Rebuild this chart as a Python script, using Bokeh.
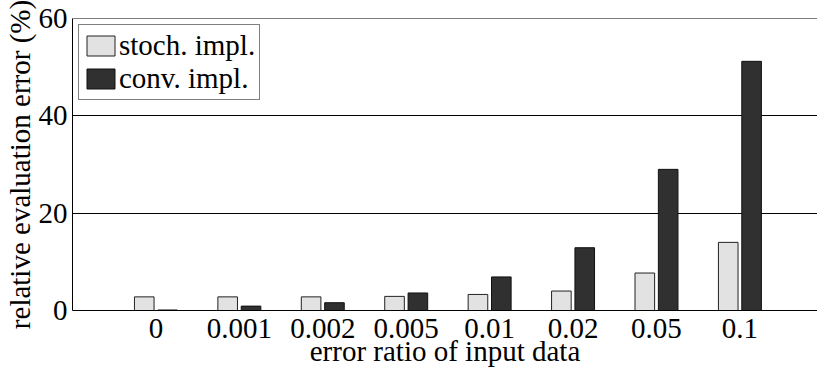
from bokeh.plotting import figure
from bokeh.models import FixedTicker, Span, Legend, LegendItem, ColumnDataSource
from bokeh.embed import file_html
from bokeh.resources import INLINE

categories = ["0", "0.001", "0.002", "0.005", "0.01", "0.02", "0.05", "0.1"]
stoch = [2.8, 2.8, 2.8, 2.9, 3.3, 4.0, 7.7, 14.0]
conv = [0.1, 0.9, 1.6, 3.6, 6.9, 12.9, 29.0, 51.2]
y_ticks = [0, 20, 40, 60]

FONT = "Liberation Serif"
FS = "29px"
n = len(categories)
idx = list(range(n))
off = 0.14
bw = 0.235

p = figure(width=817, frame_height=292, output_backend="svg", toolbar_location=None,
           x_range=(-1, 7.93), y_range=(0, 60),
           min_border_left=0, min_border_right=0, min_border_top=18, min_border_bottom=0)
p.background_fill_color = "white"
p.border_fill_color = "white"
p.outline_line_color = None

src = ColumnDataSource(dict(x=idx, xs=[i - off for i in idx], xc=[i + off for i in idx],
                            stoch=stoch, conv=conv))
r1 = p.vbar(x="xs", top="stoch", width=bw, source=src, fill_color="#e2e2e2",
            line_color="#222222", line_width=1)
r2 = p.vbar(x="xc", top="conv", width=bw, source=src, fill_color="#303030",
            line_color="#111111", line_width=1)

p.add_layout(Span(location=60, dimension="width", line_color="black", line_width=1))

p.xgrid.visible = False
p.ygrid.ticker = FixedTicker(ticks=y_ticks)
p.ygrid.grid_line_color = "black"
p.ygrid.grid_line_width = 1

p.yaxis.ticker = FixedTicker(ticks=y_ticks)
p.xaxis.ticker = FixedTicker(ticks=idx)
p.xaxis.major_label_overrides = {i: c for i, c in enumerate(categories)}

for ax in (p.xaxis[0], p.yaxis[0]):
    ax.axis_line_color = "black"
    ax.axis_line_width = 1
    ax.major_tick_in = 0
    ax.major_tick_out = 0
    ax.minor_tick_in = 0
    ax.minor_tick_out = 0
    ax.major_label_text_font = FONT
    ax.major_label_text_font_size = FS
    ax.major_label_text_color = "black"
    ax.axis_label_text_font = FONT
    ax.axis_label_text_font_size = FS
    ax.axis_label_text_font_style = "normal"
    ax.axis_label_text_color = "black"

p.xaxis.axis_label = "error ratio of input data"
p.yaxis.axis_label = "relative evaluation error (%)"
p.xaxis.major_label_standoff = 8
p.xaxis.axis_label_standoff = -6
p.yaxis.major_label_standoff = 5
p.yaxis.axis_label_standoff = 0

legend = Legend(items=[LegendItem(label="stoch. impl.", renderers=[r1]),
                       LegendItem(label="conv. impl.", renderers=[r2])],
                location="top_left")
legend.margin = 6
legend.padding = 4
legend.spacing = 0
legend.glyph_width = 35
legend.glyph_height = 25
legend.label_standoff = 1
legend.label_text_font = FONT
legend.label_text_font_size = FS
legend.label_text_color = "black"
legend.label_height = 25
legend.border_line_color = "black"
legend.border_line_width = 1
legend.background_fill_alpha = 1
p.add_layout(legend)

open("out.html", "w").write(file_html(p, INLINE))
